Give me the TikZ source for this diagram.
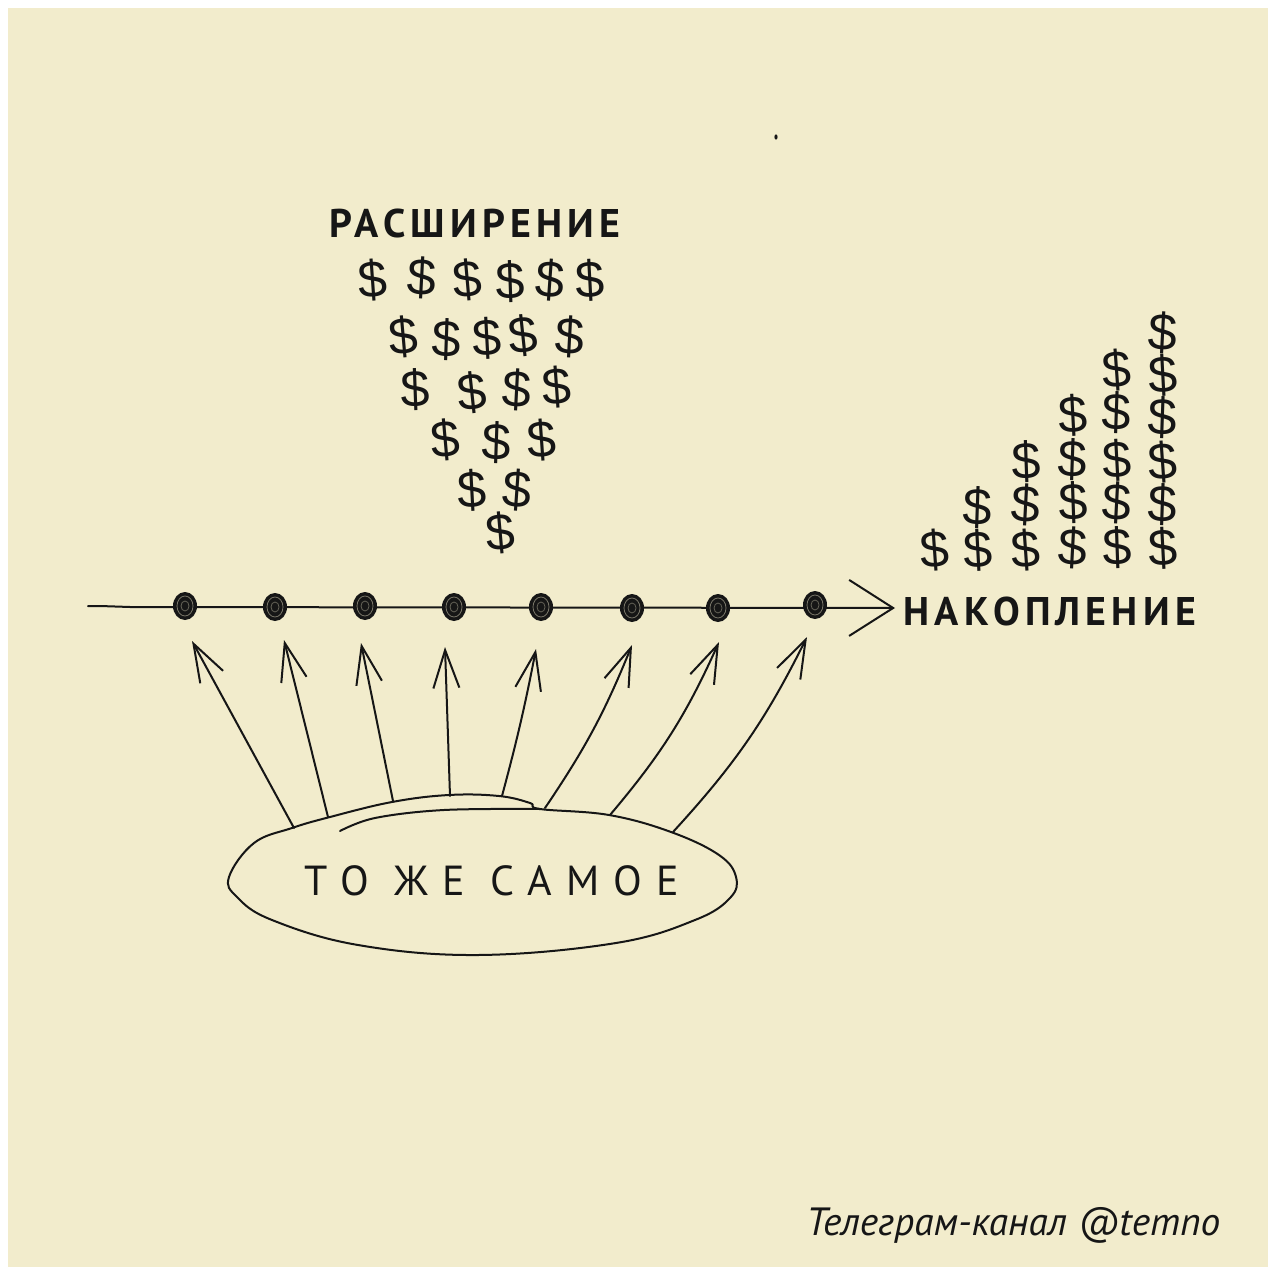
\documentclass[tikz,border=0pt]{standalone}
\usepackage{fontspec}
\setmainfont{PT Sans}
\newfontfamily\dollarfont{Liberation Sans}
\newfontfamily\handfont[LetterSpace=13]{PT Sans}
\newfontfamily\thinhand[LetterSpace=34]{PT Sans}
\usetikzlibrary{arrows.meta,shapes.geometric}
\definecolor{paper}{RGB}{242,236,204}
\definecolor{ink}{RGB}{22,22,22}
\begin{document}
\begin{tikzpicture}[x=0.5pt,y=-0.5pt,
  pen/.style={draw=ink,line width=1pt,line cap=round,line join=round},
  uparrow/.style={pen,-{Straight Barb[length=19pt,width=13pt,line width=1pt]}},
  dollar/.style={font=\dollarfont\fontsize{26}{26}\selectfont,inner sep=0pt,text=ink},
  dotnode/.style={ellipse,fill=ink,minimum width=12pt,minimum height=14pt,inner sep=0pt},
  hand/.style={font=\handfont\bfseries\fontsize{20}{20}\selectfont,text=ink,inner sep=0pt}]
% background
\fill[white] (0,0) rectangle (1268,1267);
\fill[paper] (8,8) rectangle (1268,1267);
\useasboundingbox (0,0) rectangle (1268,1267);
% stray mark
\fill[ink] (776,137) ellipse (1.6 and 2.6);

% top label and triangle of dollars
\node[hand] (expand) at (475,224) {РАСШИРЕНИЕ};
\foreach \x/\y/\r [count=\i] in {373/280/4,422/278/-3,467/280/5,510/282/2,550/280/-4,590/280/3,
  403/337/5,447/340/-2,487/338/3,523/336/6,570/337/-3,
  415/390/2,472/393/6,517/390/-3,557/387/4,
  445/440/5,497/443/-2,542/440/4,
  472/490/3,517/490/-4,
  500/533/5}
  \node[dollar,rotate=\r] (tri\i) at (\x,\y) {\$};

% right stacks of dollars
\foreach \x/\y/\r [count=\i] in {935/550/4,
  978/508/-2,978/550/3,
  1026/462/2,1026/505/-3,1026/550/4,
  1073/415/3,1073/460/-2,1073/503/2,1073/548/-3,
  1117/370/4,1117/413/-2,1117/460/3,1117/503/-3,1117/548/2,
  1163/333/-3,1163/375/3,1163/418/-2,1163/462/4,1163/505/-2,1163/548/3}
  \node[dollar,rotate=\r] (st\i) at (\x,\y) {\$};

% main axis
\coordinate (axstart) at (88,606);
\coordinate (axtip) at (895,608);
\draw[pen,-{Straight Barb[length=22pt,width=28pt,line width=1pt]}]
  (axstart) -- (100,606) -- (130,607) -- (axtip);
\node[hand,anchor=west] (accum) at (903,611) {НАКОПЛЕНИЕ};

% dots
\foreach \x/\y [count=\i] in {185/606,275/607,365/606,454/607,541/607,632/608,718/608,815/605}{
  \node[dotnode] (d\i) at (\x,\y) {};
  \draw[paper!45!ink,line width=0.4pt] (\x,\y) ellipse (8 and 10);
  \draw[paper!35!ink,line width=0.4pt] (\x,\y) ellipse (4 and 5);
}

% ellipse "the same"
\draw[pen] plot[smooth cycle,tension=0.65] coordinates {
  (229,877) (254,843) (292,828) (330,817) (392,802) (449,795) (499,796) (530,803) (540,809)
  (609,815) (671,832) (719,855) (736,877) (730,898) (695,920) (616,943) (478,955)
  (358,945) (272,920) (237,897)};
\draw[pen] plot[smooth,tension=0.6] coordinates {(340,831) (375,818) (444,810) (540,809)};
\node[font=\thinhand\fontsize{21}{21}\selectfont,text=ink,inner sep=0pt] (same) at (492,881) {ТО ЖЕ САМОЕ};

% arrows from the ellipse to the dots
\foreach \sx/\sy/\tx/\ty/\b [count=\i] in {294/828/192/641/0, 328/817/284/640/0, 393/801/361/643/0,
  450/796/445/647/0, 502/796/536/649/2, 545/808/632/645/6, 610/815/719/642/8, 673/832/807/637/8}{
  \coordinate (s\i) at (\sx,\sy);
  \coordinate (t\i) at (\tx,\ty);
  \draw[uparrow] (s\i) to[bend right=\b] (t\i);
}

% footer
\node[font=\itshape\fontsize{19.7}{19.7}\selectfont,text=ink,anchor=base west,inner sep=0pt]
  (footer) at (806,1235) {Телеграм-канал @temno};
\end{tikzpicture}
\end{document}
